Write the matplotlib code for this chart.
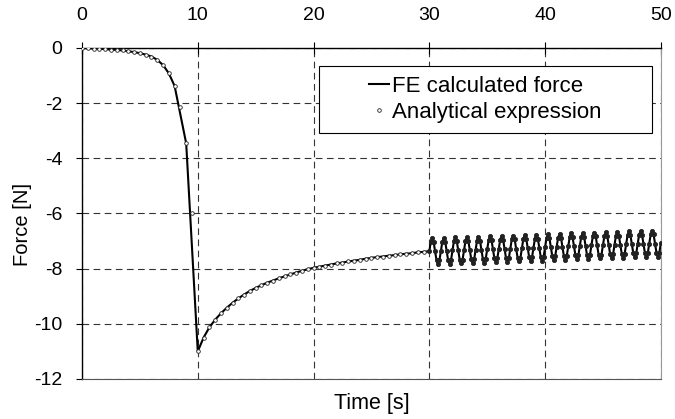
import numpy as np
import matplotlib
matplotlib.use('Agg')
import matplotlib.pyplot as plt
from matplotlib.patches import Rectangle

plt.rcParams.update({
    'font.family': ['Liberation Sans', 'DejaVu Sans'],
    'font.size': 14,
    'axes.unicode_minus': False,
})

# --- approach phase (0 - 10 s) ---
time_approach = [0, 0.5, 1, 1.5, 2, 2.5, 3, 3.5, 4, 4.5, 5, 5.5, 6, 6.5, 7, 7.5, 8]
force_approach = [0, -0.01, -0.02, -0.03, -0.04, -0.06, -0.07, -0.09, -0.12, -0.15,
                  -0.19, -0.24, -0.31, -0.43, -0.62, -0.92, -1.38]
time_fe_steep = [9, 10]
force_fe_steep = [-3.46, -11.0]
time_an_steep = [8.5, 9, 9.5, 10]
force_an_steep = [-2.15, -3.46, -5.97, -11.0]

# --- relaxation phase (10 - 30 s) ---
time_relax = [10.5, 11, 11.5, 12, 12.5, 13, 13.5, 14, 14.5, 15, 15.5, 16, 16.5, 17,
              17.5, 18, 18.5, 19, 19.5, 20, 20.5, 21, 21.5, 22, 22.5, 23, 23.5, 24,
              24.5, 25, 25.5, 26, 26.5, 27, 27.5, 28, 28.5, 29, 29.5]
force_relax = [-10.50, -10.13, -9.85, -9.62, -9.42, -9.24, -9.08, -8.94, -8.81, -8.70,
               -8.60, -8.51, -8.43, -8.35, -8.28, -8.21, -8.14, -8.08, -8.02, -7.97,
               -7.93, -7.89, -7.85, -7.81, -7.78, -7.74, -7.71, -7.68, -7.64, -7.61,
               -7.58, -7.56, -7.53, -7.51, -7.48, -7.46, -7.44, -7.41, -7.39]

# --- oscillation phase (30 - 50 s), 8 samples per 1 s cycle ---
force_osc = [
    -7.37, -7.04, -6.90, -7.04, -7.37, -7.70, -7.84, -7.70,
    -7.36, -7.03, -6.89, -7.03, -7.36, -7.69, -7.83, -7.69,
    -7.34, -7.01, -6.87, -7.01, -7.34, -7.67, -7.81, -7.67,
    -7.33, -7.00, -6.86, -7.00, -7.33, -7.66, -7.80, -7.66,
    -7.31, -6.98, -6.84, -6.98, -7.31, -7.64, -7.78, -7.64,
    -7.30, -6.97, -6.83, -6.97, -7.30, -7.63, -7.77, -7.63,
    -7.28, -6.95, -6.81, -6.95, -7.28, -7.61, -7.75, -7.61,
    -7.27, -6.94, -6.80, -6.94, -7.27, -7.60, -7.74, -7.60,
    -7.25, -6.92, -6.78, -6.92, -7.25, -7.58, -7.72, -7.58,
    -7.24, -6.91, -6.77, -6.91, -7.24, -7.57, -7.71, -7.57,
    -7.22, -6.89, -6.75, -6.89, -7.22, -7.55, -7.69, -7.55,
    -7.21, -6.88, -6.74, -6.88, -7.21, -7.54, -7.68, -7.54,
    -7.19, -6.86, -6.72, -6.86, -7.19, -7.52, -7.66, -7.52,
    -7.18, -6.85, -6.71, -6.85, -7.18, -7.51, -7.65, -7.51,
    -7.16, -6.83, -6.69, -6.83, -7.16, -7.49, -7.63, -7.49,
    -7.15, -6.82, -6.68, -6.82, -7.15, -7.48, -7.62, -7.48,
    -7.13, -6.80, -6.66, -6.80, -7.13, -7.46, -7.60, -7.46,
    -7.12, -6.79, -6.65, -6.79, -7.12, -7.45, -7.59, -7.45,
    -7.10, -6.77, -6.63, -6.77, -7.10, -7.43, -7.57, -7.43,
    -7.09, -6.76, -6.62, -6.76, -7.09, -7.42, -7.56, -7.42,
    -7.07,
]
time_osc = np.linspace(30, 50, len(force_osc))

# FE series and analytical series
t_fe = np.concatenate([time_approach, time_fe_steep, time_relax, time_osc])
f_fe = np.concatenate([force_approach, force_fe_steep, force_relax, force_osc])
t_an = np.concatenate([time_approach, time_an_steep, time_relax])
f_an = np.concatenate([force_approach, force_an_steep, force_relax])

fig = plt.figure(figsize=(6.75, 4.19), dpi=100)
ax = fig.add_axes([0.1215, 0.0955, 0.8575, 0.79])

ax.plot(t_fe, f_fe, '-', color='black', lw=1.5, label='FE calculated force', zorder=3)
ax.plot(t_an, f_an, 'o', ms=2.6, mfc='white', mec='#222222', mew=0.6,
        label='Analytical expression', zorder=4)
# analytical points are so dense in the oscillating part that they merge
ax.plot(time_osc, force_osc, 'o', ms=3.0, mfc='#222222', mec='#222222', mew=0.6, zorder=4)

ax.set_xlim(0, 50)
ax.set_ylim(-12, 0)
ax.set_xticks([0, 10, 20, 30, 40, 50])
ax.set_yticks([0, -2, -4, -6, -8, -10, -12])
ax.xaxis.tick_top()
ax.tick_params(axis='x', direction='inout', length=9, width=0.8, labelsize=14, pad=13)
ax.tick_params(axis='y', direction='out', length=4.5, width=0.8, labelsize=14, pad=9.5)
ax.grid(True, color='#333333', ls=(0, (6, 4)), lw=0.8)

for side in ['top', 'left']:
    ax.spines[side].set_color('black')
    ax.spines[side].set_linewidth(1.0)
ax.spines['bottom'].set_color('#555555')
ax.spines['right'].set_color('#999999')

ax.set_xlabel('Time [s]', fontsize=15.5, labelpad=10)
ax.set_ylabel('Force [N]', fontsize=14.5)
ax.yaxis.set_label_coords(-0.087, 0.468)

# wide legend frame with the entries centred in it
ax.add_patch(Rectangle((0.409, 0.743), 0.575, 0.203, transform=ax.transAxes,
                       facecolor='white', edgecolor='black', lw=0.8, zorder=5))
leg = ax.legend(loc='center', bbox_to_anchor=(0.6965, 0.8445), fontsize=16,
                frameon=False, handlelength=0.9, handletextpad=0.15,
                borderpad=0.2, labelspacing=0.25, numpoints=1)
leg.set_zorder(6)

fig.savefig('out.png', dpi=100)
